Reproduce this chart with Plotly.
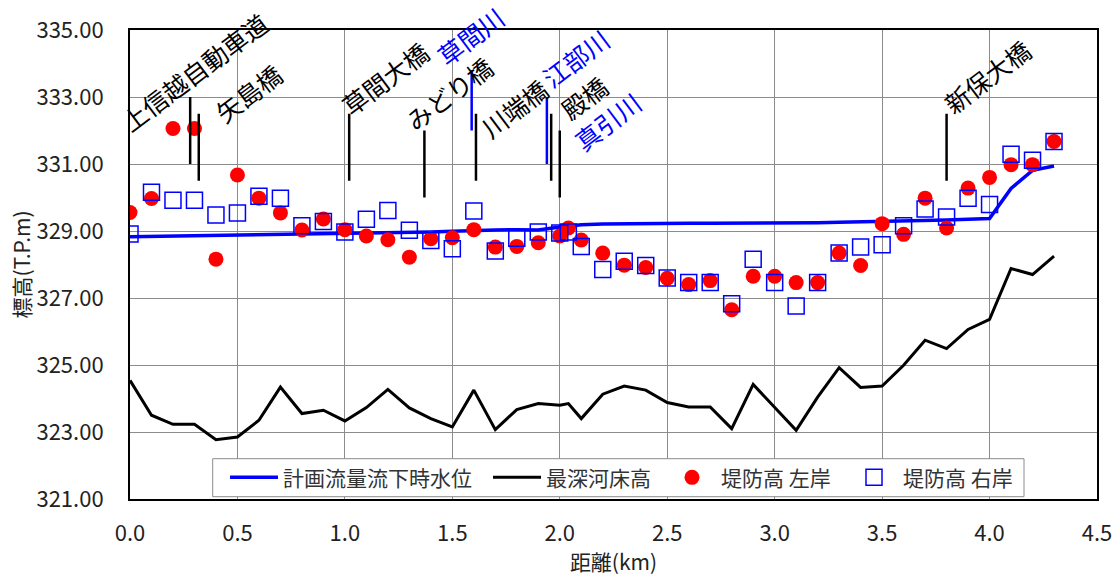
import plotly.graph_objects as go

FONT = "Noto Sans CJK JP"

distance_km = [0.0, 0.1, 0.2, 0.3, 0.4, 0.5, 0.6, 0.7, 0.8, 0.9, 1.0, 1.1, 1.2, 1.3, 1.4,
               1.5, 1.6, 1.7, 1.8, 1.9, 2.0, 2.04, 2.1, 2.2, 2.3, 2.4, 2.5, 2.6, 2.7, 2.8,
               2.9, 3.0, 3.1, 3.2, 3.3, 3.4, 3.5, 3.6, 3.7, 3.8, 3.9, 4.0, 4.1, 4.2, 4.3]

water_level = [328.83, 328.84, 328.85, 328.86, 328.86, 328.86, 328.87, 328.88, 328.90, 328.91,
               328.92, 328.93, 328.94, 328.95, 328.97, 328.99, 329.02, 329.03, 329.04, 329.03,
               329.12, 329.15, 329.19, 329.21, 329.22, 329.22, 329.22, 329.23, 329.23, 329.23,
               329.24, 329.24, 329.25, 329.25, 329.26, 329.27, 329.28, 329.30, 329.31, 329.33,
               329.35, 329.37, 330.27, 330.81, 330.94]

bed_level = [324.54, 323.50, 323.23, 323.23, 322.77, 322.85, 323.35, 324.34, 323.55, 323.65,
             323.33, 323.73, 324.27, 323.72, 323.40, 323.15, 324.25, 323.07, 323.67, 323.85,
             323.80, 323.85, 323.40, 324.13, 324.37, 324.25, 323.88, 323.75, 323.75, 323.10,
             324.42, 323.75, 323.05, 324.04, 324.92, 324.33, 324.37, 324.99, 325.74, 325.49,
             326.06, 326.36, 327.88, 327.70, 328.25]

levee_left = [329.55, 329.97, 332.06, 332.06, 328.16, 330.67, 329.98, 329.54, 329.03, 329.36,
              329.04, 328.85, 328.74, 328.22, 328.77, 328.80, 329.04, 328.52, 328.54, 328.65,
              328.85, 329.09, 328.73, 328.34, 327.98, 327.91, 327.59, 327.40, 327.52, 326.65,
              327.65, 327.65, 327.46, 327.46, 328.34, 327.97, 329.22, 328.90, 329.98, 329.09,
              330.28, 330.60, 330.98, 330.98, 331.67]

levee_right = [328.91, 330.16, 329.92, 329.92, 329.48, 329.54, 330.04, 329.98, 329.16, 329.28,
               328.97, 329.35, 329.61, 329.02, 328.72, 328.47, 329.60, 328.40, 328.78, 328.97,
               328.94, 328.97, 328.54, 327.85, 328.10, 327.97, 327.60, 327.46, 327.46, 326.83,
               328.16, 327.46, 326.76, 327.46, 328.34, 328.52, 328.59, 329.16, 329.66, 329.42,
               329.98, 329.79, 331.29, 331.11, 331.67]

# landmark markers: x, y_bottom, y_top, color
mark_x = [0.28, 0.32, 1.02, 1.37, 1.59, 1.61, 1.94, 1.96, 2.00, 3.80]
mark_y0 = [331.0, 330.5, 330.5, 330.0, 332.0, 330.5, 331.0, 330.5, 330.0, 330.5]
mark_y1 = [333.0, 332.5, 332.5, 332.0, 333.8, 332.5, 333.0, 332.5, 332.0, 332.5]
mark_color = ["black", "black", "black", "black", "blue", "black", "blue", "black", "black", "black"]

# labels: text, center x, center y, color
label_text = ["上信越自動車道", "矢島橋", "草間大橋", "草間川", "みどり橋", "川端橋", "江部川", "殿橋", "真引川", "新保大橋"]
label_x = [0.298, 0.55, 1.188, 1.584, 1.486, 1.789, 2.073, 2.115, 2.222, 3.99]
label_y = [333.74, 333.11, 333.56, 334.81, 333.11, 332.66, 334.16, 332.99, 332.27, 333.62]
label_color = ["black", "black", "black", "blue", "black", "black", "blue", "black", "blue", "black"]

x_ticks = [0.0, 0.5, 1.0, 1.5, 2.0, 2.5, 3.0, 3.5, 4.0, 4.5]
y_ticks = [321, 323, 325, 327, 329, 331, 333, 335]

L, R, T, B = 130, 18, 30, 77
W, H = 1115, 576
PW, PH = W - L - R, H - T - B


def px_x(p):
    return (p - L) / PW


def px_y(p):
    return (H - B - p) / PH


fig = go.Figure()
fig.add_trace(go.Scatter(x=distance_km, y=water_level, mode="lines", name="計画流量流下時水位",
                         line=dict(color="#0000FF", width=3.5), legend="legend"))
fig.add_trace(go.Scatter(x=distance_km, y=bed_level, mode="lines", name="最深河床高",
                         line=dict(color="black", width=3), legend="legend2"))
fig.add_trace(go.Scatter(x=distance_km, y=levee_left, mode="markers", name="堤防高 左岸",
                         marker=dict(color="#FF0000", size=15, symbol="circle"), legend="legend3"))
fig.add_trace(go.Scatter(x=distance_km, y=levee_right, mode="markers", name="堤防高 右岸",
                         marker=dict(color="#0000FF", size=16, symbol="square-open",
                                     line=dict(width=1.5, color="#0000FF")), legend="legend4"))

shapes = []
for x, y0, y1, c in zip(mark_x, mark_y0, mark_y1, mark_color):
    shapes.append(dict(type="line", xref="x", yref="y", x0=x, x1=x, y0=y0, y1=y1,
                       line=dict(color="#0000FF" if c == "blue" else "black", width=2.5)))
# legend frame
shapes.append(dict(type="rect", xref="paper", yref="paper", layer="above",
                   x0=px_x(212.7), x1=px_x(1024), y0=px_y(496.7), y1=px_y(458.7),
                   fillcolor="white", line=dict(color="#8c8c8c", width=1)))

annotations = []
for t, x, y, c in zip(label_text, label_x, label_y, label_color):
    annotations.append(dict(text=t, x=x, y=y, xref="x", yref="y", showarrow=False,
                            textangle=-37, xanchor="center", yanchor="middle",
                            font=dict(family=FONT, size=25,
                                      color="#0000FF" if c == "blue" else "black")))

legend_font = dict(family=FONT, size=21, color="#333333")
legend_y = px_y(477.7)


def leg(left_px):
    return dict(x=px_x(left_px), y=legend_y, xanchor="left", yanchor="middle",
                orientation="h", bgcolor="rgba(0,0,0,0)", borderwidth=0,
                itemwidth=48, font=legend_font)


fig.update_layout(
    width=W, height=H,
    margin=dict(l=L, r=R, t=T, b=B),
    paper_bgcolor="white", plot_bgcolor="white",
    font=dict(family=FONT, size=21, color="black"),
    shapes=shapes, annotations=annotations,
    showlegend=True,
    legend=leg(225), legend2=leg(488), legend3=leg(663), legend4=leg(845),
    xaxis=dict(range=[0, 4.5], tickvals=x_ticks, tickformat=".1f", automargin=False,
               showgrid=True, gridcolor="#8c8c8c", gridwidth=1,
               showline=True, linecolor="black", linewidth=2, mirror=True,
               zeroline=False, ticks="", ticklabelstandoff=14,
               tickfont=dict(family=FONT, size=22, color="#222222"),
               title=dict(text="距離(km)", standoff=0,
                          font=dict(family=FONT, size=21, color="#222222"))),
    yaxis=dict(range=[321, 335], tickvals=y_ticks, tickformat=".2f", automargin=False,
               showgrid=True, gridcolor="#8c8c8c", gridwidth=1,
               showline=True, linecolor="black", linewidth=2, mirror=True,
               zeroline=False, ticks="", ticklabelstandoff=20,
               tickfont=dict(family=FONT, size=22, color="#222222"),
               title=dict(text="標高(T.P.m)", standoff=0,
                          font=dict(family=FONT, size=21, color="#222222"))),
)

fig.write_html("out.html", config={"displayModeBar": False},
               post_script="document.body.style.margin='0px';document.body.style.overflow='hidden';")
